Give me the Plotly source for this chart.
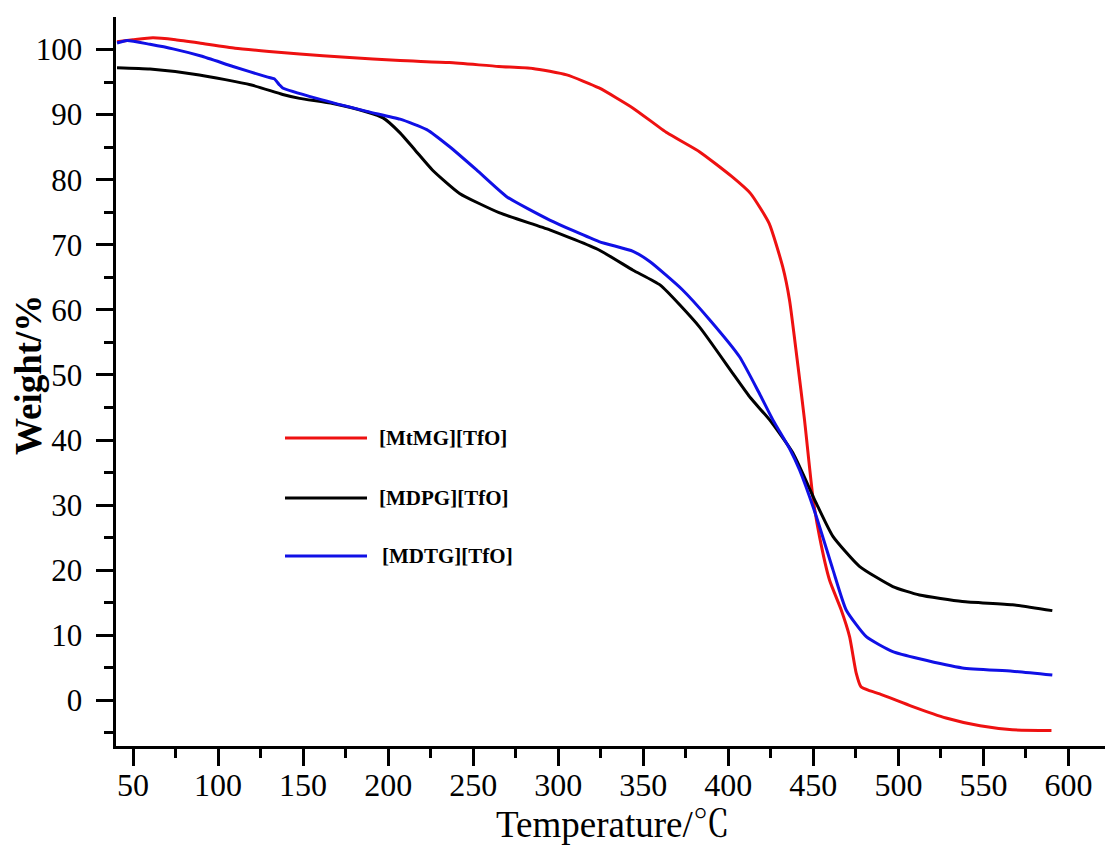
import plotly.graph_objects as go

# ---------------- data ----------------
names = ["[MtMG][TfO]", "[MDPG][TfO]", "[MDTG][TfO]"]
colors = ["#ee1111", "#000000", "#1010e6"]

t_mtmg = [40.6, 50, 61.7, 75, 89, 110, 130, 148, 175, 207, 236, 265, 285, 305, 324, 344,
          364, 383, 402, 413, 424, 432, 436, 441, 444.8, 449.7, 453.6, 459.5, 466.4,
          471.3, 475.2, 478, 483, 489, 508, 528, 548, 567, 590]
w_mtmg = [101.2, 101.5, 101.8, 101.5, 101.0, 100.2, 99.7, 99.3, 98.8, 98.3, 98.0, 97.4,
          97.1, 96.1, 94.1, 91.0, 87.2, 84.3, 80.5, 77.9, 73.3, 66.6, 61.5, 51.3, 43.1,
          31.3, 25.2, 18.5, 13.9, 9.8, 4.2, 2.1, 1.5, 1.0, -0.9, -2.7, -3.9, -4.5, -4.6]

t_mdpg = [40.6, 60, 89, 119, 138, 148, 167.5, 187.5, 197, 207, 216, 226, 242, 265.6, 295,
          324, 344, 360, 383, 402.5, 413, 424.3, 438, 451.7, 461.5, 477.1, 496.7, 512.4,
          537.6, 567, 590.5]
w_mdpg = [97.2, 97.0, 96.1, 94.6, 93.1, 92.5, 91.7, 90.4, 89.5, 87.2, 84.5, 81.5, 77.9,
          74.9, 72.3, 69.2, 66.1, 63.8, 57.4, 50.3, 46.5, 43.1, 38.0, 30.3, 25.2, 20.6,
          17.5, 16.2, 15.2, 14.7, 13.8]

t_mdtg = [40.6, 46.5, 60, 73.5, 90, 108.8, 128.7, 133, 136, 138, 158, 187.5, 207, 222.7,
          236, 252, 269.7, 295, 324, 344, 354, 373, 389, 406.6, 418, 426.2, 436, 441.9,
          451.7, 461.5, 469.3, 481.1, 496.7, 512.4, 537.6, 567, 590.5]
w_mdtg = [101.0, 101.4, 100.8, 100.1, 99.0, 97.4, 95.8, 95.5, 94.6, 94.1, 92.5, 90.5,
          89.3, 87.7, 85.1, 81.5, 77.4, 73.8, 70.5, 69.0, 67.4, 63.1, 58.5, 52.8, 47.3,
          43.1, 38.7, 35.4, 28.3, 20.1, 13.9, 9.8, 7.5, 6.4, 5.0, 4.5, 3.9]

x_ticks = [50, 100, 150, 200, 250, 300, 350, 400, 450, 500, 550, 600]
y_ticks = [0, 10, 20, 30, 40, 50, 60, 70, 80, 90, 100]

series = [(t_mtmg, w_mtmg), (t_mdpg, w_mdpg), (t_mdtg, w_mdtg)]

# ---------------- layout geometry (page has an 8px body margin) ----------------
OFF = 8
W, H = 1113 - OFF, 850 - OFF
ML, MR, MT, MB = 116 - OFF, 2, 17 - OFF, 104
PW, PH = W - ML - MR, H - MT - MB


def px(x):
    return (x - OFF - ML) / PW


def py(y):
    return (H - MB - (y - OFF)) / PH


FONT = "Liberation Serif, Times New Roman, Noto Serif CJK SC, Noto Sans CJK SC, serif"

fig = go.Figure()
for (tx, wy), nm, col in zip(series, names, colors):
    fig.add_trace(go.Scatter(x=tx, y=wy, mode="lines", name=nm,
                             line=dict(color=col, width=3, shape="spline", smoothing=0.5),
                             showlegend=False))

axis_common = dict(showline=True, linecolor="black", linewidth=2.5, mirror=False,
                   showgrid=False, zeroline=False, ticks="outside", tickcolor="black",
                   tickwidth=2.5, ticklen=17)

fig.update_xaxes(range=[40, 625], tickvals=x_ticks, ticktext=[str(v) for v in x_ticks],
                 tickfont=dict(family=FONT, size=32, color="black"),
                 ticklabelstandoff=-8,
                 minor=dict(tickvals=[v + 25 for v in x_ticks[:-1]] + [625], ticks="outside",
                            ticklen=9, tickwidth=2.5, tickcolor="black"),
                 **axis_common)
pad = "<span style='color:rgba(0,0,0,0)'>.</span>"
fig.update_yaxes(range=[-7, 105], tickvals=y_ticks,
                 ticktext=[str(v) + pad for v in y_ticks],
                 tickfont=dict(family=FONT, size=31, color="black"),
                 minor=dict(tickvals=[v - 5 for v in y_ticks], ticks="outside",
                            ticklen=9, tickwidth=2.5, tickcolor="black"),
                 **axis_common)

annotations = [
    dict(text="Weight/%", x=px(29), y=py(375), xref="paper", yref="paper",
         textangle=-90, showarrow=False, xanchor="center", yanchor="middle",
         font=dict(family=FONT, size=37, color="black", weight="bold")),
    dict(text="Temperature/℃", x=px(613), y=py(824), xref="paper", yref="paper",
         showarrow=False, xanchor="center", yanchor="middle",
         font=dict(family=FONT, size=37, color="black")),
]
shapes = []
leg_y = [438, 498, 556]
leg_tx = [377, 377, 380]
for nm, col, ly, tx in zip(names, colors, leg_y, leg_tx):
    shapes.append(dict(type="line", xref="paper", yref="paper", x0=px(285), x1=px(367),
                       y0=py(ly), y1=py(ly), line=dict(color=col, width=3)))
    annotations.append(dict(text=nm, x=px(tx), y=py(ly), xref="paper", yref="paper",
                            showarrow=False, xanchor="left", yanchor="middle",
                            font=dict(family=FONT, size=21, color="black", weight="bold")))

fig.update_layout(width=W, height=H, margin=dict(l=ML, r=MR, t=MT, b=MB),
                  plot_bgcolor="white", paper_bgcolor="white",
                  annotations=annotations, shapes=shapes, showlegend=False)

fig.write_html("out.html")
